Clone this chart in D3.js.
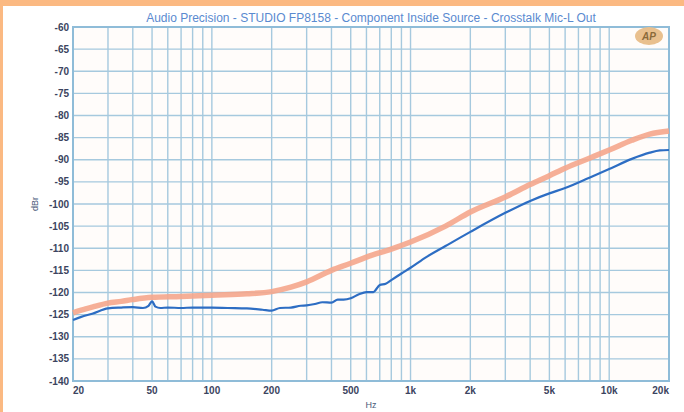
<!DOCTYPE html>
<html>
<head>
<meta charset="utf-8">
<script src="https://cdn.jsdelivr.net/npm/d3@7"></script>
<style>
  body { margin: 0; background: #ffffff; }
  svg { display: block; font-family: "Liberation Sans", Arial, sans-serif; }
</style>
</head>
<body>
<div id="chart"></div>
<script>
// Frequencies (Hz) and levels (dB)
const blueFreq = [20, 22, 25, 30, 35, 40, 45, 48, 50, 52, 55, 60, 70, 80, 100, 120, 150, 180, 200, 220, 250, 280, 300, 330, 360, 400, 430, 460, 500, 550, 600, 650, 700, 750, 800, 900, 1000, 1200, 1500, 2000, 3000, 4000, 5000, 6000, 8000, 10000, 13000, 16000, 18000, 20000];
const blueDb = [-126.2, -125.5, -124.8, -123.6, -123.4, -123.3, -123.5, -123.0, -122.0, -123.2, -123.5, -123.4, -123.5, -123.4, -123.4, -123.5, -123.6, -123.9, -124.1, -123.5, -123.4, -123.0, -122.9, -122.6, -122.2, -122.3, -121.6, -121.6, -121.3, -120.4, -119.9, -119.9, -118.3, -118.0, -117.2, -115.7, -114.4, -112.0, -109.5, -106.3, -102.0, -99.3, -97.6, -96.4, -94.0, -92.1, -89.8, -88.4, -87.9, -87.8];

const orangeFreq = [20, 22, 25, 30, 35, 40, 50, 70, 100, 150, 200, 250, 300, 400, 500, 600, 800, 1000, 1500, 2000, 3000, 4000, 5000, 6000, 8000, 10000, 13000, 16000, 20000];
const orangeDb = [-124.6, -124.0, -123.3, -122.4, -122.0, -121.6, -121.1, -120.9, -120.6, -120.3, -119.8, -118.8, -117.6, -115.0, -113.4, -112.0, -110.2, -108.6, -105.0, -101.8, -98.4, -95.6, -93.6, -91.9, -89.6, -87.8, -85.6, -84.2, -83.5];

// Axis ticks
const yTicks = d3.range(-60, -141, -5);
const xTickValues = [20, 50, 100, 200, 500, 1000, 2000, 5000, 10000, 20000];
const xTickLabels = ["20", "50", "100", "200", "500", "1k", "2k", "5k", "10k", "20k"];

const titleText = "Audio Precision - STUDIO FP8158 - Component Inside Source - Crosstalk Mic-L Out";

// Set up SVG dimensions
const width = 684;
const height = 412;
const margin = { top: 27, right: 15, bottom: 31, left: 73 };
const plotW = width - margin.left - margin.right;
const plotH = height - margin.top - margin.bottom;

const svg = d3.select("#chart")
  .append("svg")
  .attr("width", width)
  .attr("height", height);

// Orange border strips
svg.append("rect").attr("x", 0).attr("y", 0).attr("width", width).attr("height", 6).attr("fill", "#fbb982");
svg.append("rect").attr("x", 0).attr("y", 0).attr("width", 3).attr("height", height).attr("fill", "#fbb982");

const g = svg.append("g")
  .attr("transform", `translate(${margin.left}, ${margin.top})`);

// Scales
const x = d3.scaleLog()
  .domain([20, 20000])
  .range([0, plotW]);

const y = d3.scaleLinear()
  .domain([-60, -140])
  .range([0, plotH]);

// Plot background
g.append("rect")
  .attr("width", plotW)
  .attr("height", plotH)
  .attr("fill", "#fffcfa");

const gridColor = "#a6c9de";

// Vertical log grid
const minorTicks = x.ticks(30).filter(d => d >= 20 && d <= 20000);
g.selectAll(".vgrid")
  .data(minorTicks)
  .enter()
  .append("line")
  .attr("class", "vgrid")
  .attr("x1", d => x(d))
  .attr("x2", d => x(d))
  .attr("y1", 0)
  .attr("y2", plotH)
  .attr("stroke", gridColor)
  .attr("stroke-width", 1.4);

// Horizontal grid
g.selectAll(".hgrid")
  .data(yTicks)
  .enter()
  .append("line")
  .attr("class", "hgrid")
  .attr("x1", 0)
  .attr("x2", plotW)
  .attr("y1", d => y(d))
  .attr("y2", d => y(d))
  .attr("stroke", gridColor)
  .attr("stroke-width", 1.4);

// Frame
g.append("rect")
  .attr("width", plotW)
  .attr("height", plotH)
  .attr("fill", "none")
  .attr("stroke", "#8fbcd8")
  .attr("stroke-width", 2);

// Line generator
const line = d3.line()
  .x(d => x(d[0]))
  .y(d => y(d[1]))
  .curve(d3.curveMonotoneX);

const orangeData = orangeFreq.map((f, i) => [f, orangeDb[i]]);
const blueData = blueFreq.map((f, i) => [f, blueDb[i]]);

g.append("path")
  .datum(orangeData)
  .attr("d", line)
  .attr("fill", "none")
  .attr("stroke", "#f5a68c")
  .attr("stroke-opacity", 0.9)
  .attr("stroke-width", 5.5);

g.append("path")
  .datum(blueData)
  .attr("d", line)
  .attr("fill", "none")
  .attr("stroke", "#2d6dc3")
  .attr("stroke-width", 2.2);

// Y tick labels
g.selectAll(".ylab")
  .data(yTicks)
  .enter()
  .append("text")
  .attr("class", "ylab")
  .attr("x", -4)
  .attr("y", d => y(d))
  .attr("dy", "0.35em")
  .attr("text-anchor", "end")
  .attr("font-size", 10)
  .attr("font-weight", "bold")
  .attr("fill", "#3b4460")
  .text(d => d);

// X tick labels (first and last kept inside the frame)
g.selectAll(".xlab")
  .data(xTickValues)
  .enter()
  .append("text")
  .attr("class", "xlab")
  .attr("x", d => x(d))
  .attr("y", plotH + 13)
  .attr("text-anchor", (d, i) => i === 0 ? "start" : (i === xTickValues.length - 1 ? "end" : "middle"))
  .attr("font-size", 10)
  .attr("font-weight", "bold")
  .attr("fill", "#3b4460")
  .text((d, i) => xTickLabels[i]);

// Axis titles
svg.append("text")
  .attr("x", margin.left + plotW / 2)
  .attr("y", height - 4)
  .attr("text-anchor", "middle")
  .attr("font-size", 9)
  .attr("fill", "#4a5a7a")
  .text("Hz");

svg.append("text")
  .attr("transform", `translate(38, ${margin.top + y(-100)}) rotate(-90)`)
  .attr("text-anchor", "middle")
  .attr("font-size", 9)
  .attr("fill", "#4a5a7a")
  .text("dBr");

// Title
svg.append("text")
  .attr("x", margin.left + plotW / 2)
  .attr("y", 22)
  .attr("text-anchor", "middle")
  .attr("font-size", 12)
  .attr("fill", "#5a8ad0")
  .text(titleText);

// AP logo in top right corner
const logo = svg.append("g")
  .attr("transform", `translate(${margin.left + plotW - 20}, ${margin.top + 9})`);
logo.append("ellipse")
  .attr("rx", 14)
  .attr("ry", 9)
  .attr("fill", "#e9c08e");
logo.append("text")
  .attr("text-anchor", "middle")
  .attr("dy", "0.35em")
  .attr("font-size", 10)
  .attr("font-weight", "bold")
  .attr("font-style", "italic")
  .attr("fill", "#8a6a3a")
  .text("AP");
</script>
</body>
</html>
